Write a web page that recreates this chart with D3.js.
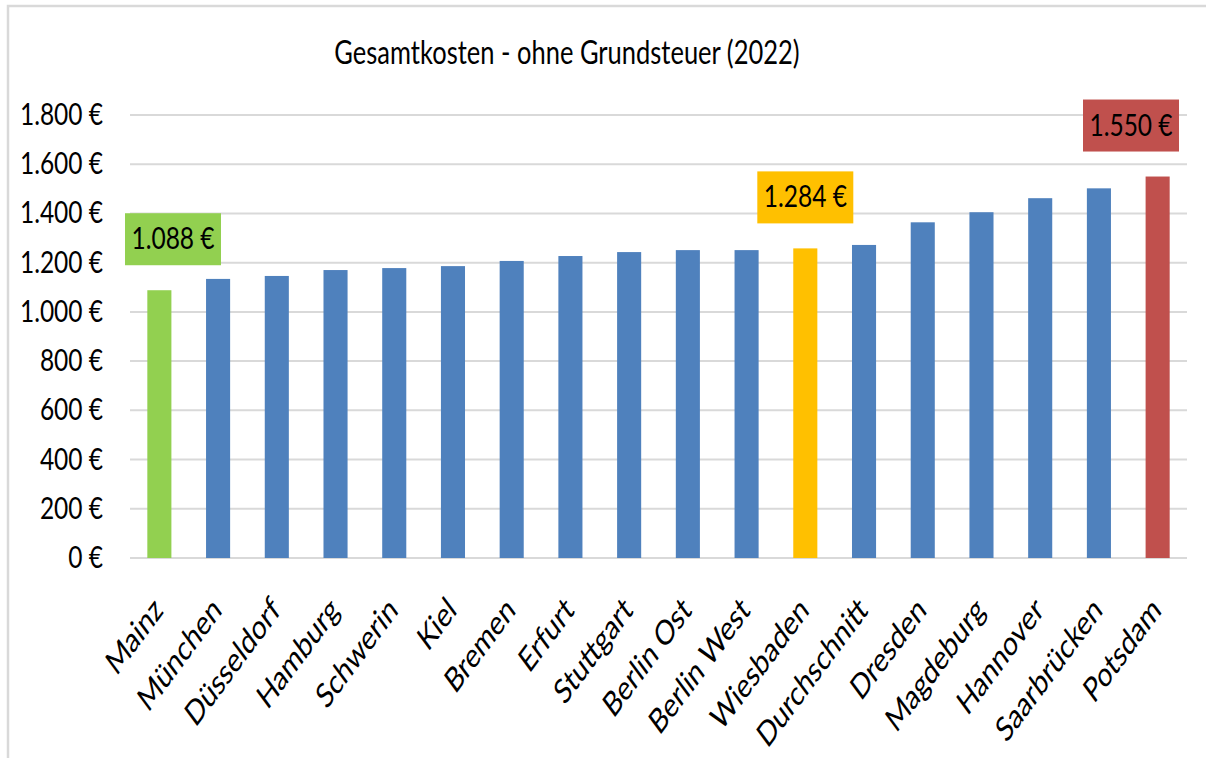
<!DOCTYPE html>
<html>
<head>
<meta charset="utf-8">
<script src="https://cdn.jsdelivr.net/npm/d3@7"></script>
<style>
  html, body { margin: 0; padding: 0; background: #fff; }
  svg text { font-family: Lato, "Open Sans", sans-serif; fill: #000; }
</style>
</head>
<body>
<svg id="chart" width="1206" height="758"></svg>
<script>
// ---- data ----
const title = "Gesamtkosten - ohne Grundsteuer (2022)";
const categories = ["Mainz","München","Düsseldorf","Hamburg","Schwerin","Kiel","Bremen","Erfurt","Stuttgart","Berlin Ost","Berlin West","Wiesbaden","Durchschnitt","Dresden","Magdeburg","Hannover","Saarbrücken","Potsdam"];
const values = [1088, 1134, 1146, 1170, 1178, 1186, 1207, 1227, 1243, 1251, 1251, 1258, 1272, 1364, 1405, 1462, 1502, 1550];
const yTicks = [0, 200, 400, 600, 800, 1000, 1200, 1400, 1600, 1800];
const labelCategories = ["Mainz", "Wiesbaden", "Potsdam"];
const labelValues = [1088, 1284, 1550];

// ---- styles ----
const baseColor = "#4F81BD";
const highlightColors = { "Mainz": "#92D050", "Wiesbaden": "#FFC000", "Potsdam": "#C0504D" };
const gridColor = "#d9d9d9";
const SY = 1.25; // vertical text stretch

const svg = d3.select("#chart");
const W = 1206, H = 758;
const plot = { left: 130, right: 1187, top: 115, bottom: 558 };

const locale = d3.formatLocale({ decimal: ",", thousands: ".", grouping: [3], currency: ["", " €"] });
const fmt = v => locale.format(",.0f")(v) + " €";

// frame
svg.append("path")
  .attr("d", `M8,${H} V6 H${W}`)
  .attr("fill", "none").attr("stroke", gridColor).attr("stroke-width", 2.5);

const x = d3.scaleBand().domain(categories)
  .range([plot.left, plot.right]).paddingInner(0.59).paddingOuter(0.295);
const y = d3.scaleLinear().domain([0, 1800]).range([plot.bottom, plot.top]);

// grid
svg.append("g").selectAll("line").data(yTicks).join("line")
  .attr("x1", plot.left).attr("x2", plot.right)
  .attr("y1", d => y(d)).attr("y2", d => y(d))
  .attr("stroke", gridColor).attr("stroke-width", 2);

// y labels
svg.append("g").selectAll("text").data(yTicks).join("text")
  .attr("transform", d => `translate(103,${y(d) + 10}) scale(1,${SY})`)
  .attr("text-anchor", "end")
  .attr("font-size", 24.5)
  .text(d => fmt(d));

// bars
svg.append("g").selectAll("rect").data(categories).join("rect")
  .attr("x", d => x(d)).attr("width", x.bandwidth())
  .attr("y", (d, i) => y(values[i]))
  .attr("height", (d, i) => y(0) - y(values[i]))
  .attr("fill", d => highlightColors[d] || baseColor);

// x labels
svg.append("g").selectAll("text").data(categories).join("text")
  .attr("transform", d => `translate(${x(d) + x.bandwidth() / 2 + 5},${plot.bottom + 54}) scale(1,1.35) rotate(-45)`)
  .attr("text-anchor", "end")
  .attr("font-size", 25.5)
  .text(d => d);

// title
svg.append("text")
  .attr("transform", `translate(567,64) scale(1,1.32)`)
  .attr("text-anchor", "middle")
  .attr("font-size", 25.5)
  .text(title);

// highlight labels
const boxW = 96, boxH = 52, gap = 25;
const lg = svg.append("g");
labelCategories.forEach((c, i) => {
  const cx = x(c) + x.bandwidth() / 2;
  const barVal = values[categories.indexOf(c)];
  let left = cx - boxW / 2;
  left = Math.max(plot.left - 5, Math.min(left, plot.right - 8 - boxW));
  const bottom = y(barVal) - gap;
  lg.append("rect")
    .attr("x", left).attr("y", bottom - boxH)
    .attr("width", boxW).attr("height", boxH)
    .attr("fill", highlightColors[c]);
  lg.append("text")
    .attr("transform", `translate(${left + boxW / 2},${bottom - boxH / 2 + 10}) scale(1,${SY})`)
    .attr("text-anchor", "middle")
    .attr("font-size", 24.5)
    .text(fmt(labelValues[i]));
});
</script>
</body>
</html>
